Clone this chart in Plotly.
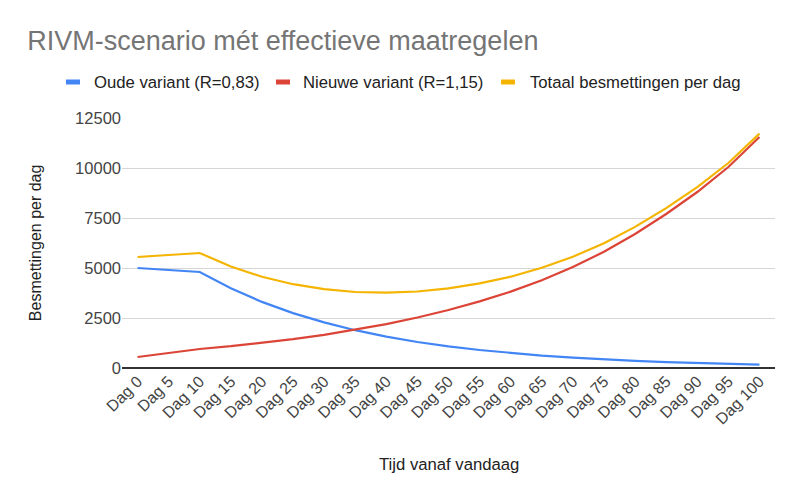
import plotly.graph_objects as go

days = ["Dag %d" % d for d in range(0, 101, 5)]
oude = [5000, 4900, 4800, 3985, 3305, 2745, 2280, 1890, 1570, 1300, 1080, 900, 745, 620, 515, 425, 355, 295, 245, 200, 170]
nieuwe = [550, 750, 950, 1090, 1255, 1445, 1660, 1910, 2195, 2525, 2900, 3330, 3820, 4390, 5050, 5810, 6700, 7700, 8800, 10050, 11550]
totaal = [5550, 5650, 5750, 5075, 4560, 4190, 3940, 3800, 3765, 3825, 3980, 4230, 4565, 5010, 5565, 6235, 7055, 7995, 9045, 10250, 11720]

names = ["Oude variant (R=0,83)", "Nieuwe variant (R=1,15)", "Totaal besmettingen per dag"]
colors = ["#4285F4", "#DB4437", "#F4B400"]
FONT = "Arial, Liberation Sans, sans-serif"

W, H = 800, 495
ML, MR, MT, MB = 114, 33, 110, 135
PW, PH = W - ML - MR, H - MT - MB


def px(x):
    return (x - ML) / PW


def py(y):
    return 1 - (y - MT) / PH


fig = go.Figure()
for name, vals, col in zip(names, [oude, nieuwe, totaal], colors):
    fig.add_trace(go.Scatter(x=days, y=vals, name=name, mode="lines", showlegend=False,
                             line=dict(color=col, width=2.2)))

# manual legend (bar + label), positions in figure pixels
legend_bar_x = [58, 268, 493]
legend_text_x = [84, 293, 520]
legend_y = 74
shapes = []
annotations = []
for name, col, bx, tx in zip(names, colors, legend_bar_x, legend_text_x):
    shapes.append(dict(type="rect", xref="paper", yref="paper",
                       x0=px(bx), x1=px(bx + 14), y0=py(legend_y + 2.5), y1=py(legend_y - 2.5),
                       fillcolor=col, line=dict(width=0)))
    annotations.append(dict(text=name, xref="paper", yref="paper", x=px(tx), y=py(legend_y),
                            xanchor="left", yanchor="middle", showarrow=False,
                            font=dict(size=16.7, color="#222222")))

annotations += [
    dict(text="Tijd vanaf vandaag", xref="paper", yref="paper", x=0.5, y=-0.384,
         xanchor="center", yanchor="middle", showarrow=False,
         font=dict(size=16.7, color="#222222")),
    dict(text="Besmettingen per dag", xref="paper", yref="paper", x=-0.133, y=0.5,
         xanchor="center", yanchor="middle", showarrow=False, textangle=-90,
         font=dict(size=16, color="#222222")),
]

fig.update_layout(
    width=W, height=H,
    paper_bgcolor="white", plot_bgcolor="white",
    font=dict(family=FONT, size=16, color="#222222"),
    margin=dict(l=ML, r=MR, t=MT, b=MB),
    showlegend=False,
    title=dict(text="RIVM-scenario mét effectieve maatregelen", x=0.024, xanchor="left",
               y=0.935, yanchor="middle", xref="container", yref="container",
               font=dict(size=27, color="#757575", family=FONT)),
    shapes=shapes,
    annotations=annotations,
)
fig.update_xaxes(type="category", tickangle=-45, showgrid=False, showline=False,
                 ticks="", tickfont=dict(size=16, color="#444444"),
                 range=[-0.5, 20.5], automargin=False)
fig.update_yaxes(range=[0, 12500], tickvals=[0, 2500, 5000, 7500, 10000, 12500],
                 tickformat="d", showgrid=True, gridcolor="#d6d6d6", gridwidth=1,
                 zeroline=True, zerolinecolor="#333333", zerolinewidth=1.5,
                 ticks="", tickfont=dict(size=16.5, color="#444444"), automargin=False)

fig.write_html("out.html")
